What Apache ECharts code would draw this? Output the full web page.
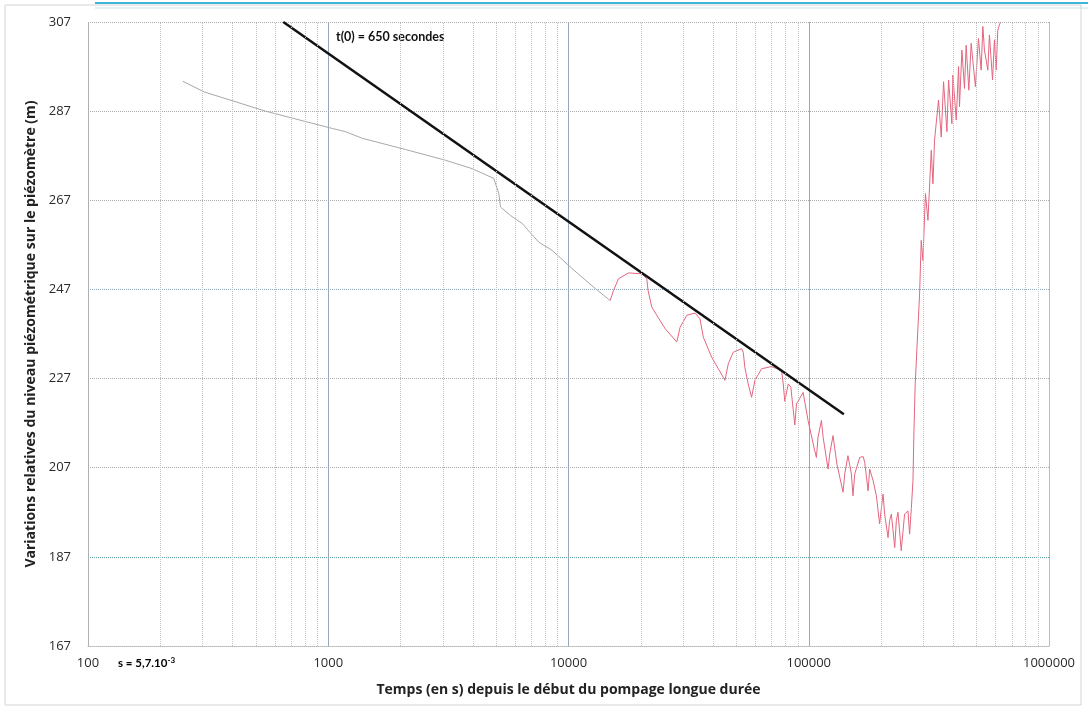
<!DOCTYPE html>
<html>
<head>
<meta charset="utf-8">
<script src="https://cdn.jsdelivr.net/npm/echarts@6/dist/echarts.min.js"></script>
<style>
html,body{margin:0;padding:0;background:#fff;}
#chart{width:1088px;height:715px;}
</style>
</head>
<body>
<div id="chart"></div>
<script>
// Early (grey) part of the drawdown record
const greyTime = [248, 305, 548, 1042, 1179, 1387, 2094, 3069, 3971, 4889, 5128, 5210, 5730, 6414, 7520, 8536, 10340, 12920, 14910];
const greyLevel = [293.7, 291.3, 287.0, 283.1, 282.4, 280.9, 278.4, 276.0, 274.1, 271.9, 268.5, 265.5, 263.6, 261.8, 257.6, 255.8, 251.7, 247.2, 244.5];

// Later (red) part of the record
const redTime = [14910, 15400, 16150, 17770, 20180, 21180, 21430, 22230, 25240, 28230, 29140, 31060, 33640, 35260, 36400, 39440, 44800, 46240, 48500, 52570, 53400, 54200, 55960, 57800, 59700, 63640, 69980, 77090, 78300, 79500, 82150, 84200, 87500, 88920, 94760, 99330, 105900, 107600, 109300, 112900, 114800, 120300, 122300, 126200, 131000, 138900, 141200, 145600, 148100, 150500, 152800, 155400, 163000, 168400, 171000, 176600, 179300, 185300, 191200, 197200, 203800, 207000, 213800, 217000, 220700, 228000, 231500, 235200, 242600, 250600, 258900, 262900, 267200, 271500, 274100, 277400, 289300, 293900, 298700, 301600, 306000, 313400, 323600, 328800, 333900, 346800, 356000, 364000, 375900, 382000, 394300, 398100, 411000, 420400, 424100, 434000, 444800, 452000, 463800, 474300, 494000, 508600, 521900, 530500, 538600, 556400, 565000, 582100, 592700, 602400, 612200, 621700, 628000];
const redLevel = [244.5, 246.8, 249.4, 250.7, 250.5, 249.4, 246.8, 243.0, 238.2, 235.2, 238.5, 241.2, 241.7, 240.4, 236.3, 231.8, 226.6, 230.3, 232.9, 233.7, 232.9, 229.5, 225.8, 222.8, 226.6, 229.2, 229.7, 228.8, 225.8, 221.9, 225.8, 225.1, 216.6, 221.3, 223.9, 217.6, 210.8, 209.3, 213.8, 217.6, 213.8, 206.7, 210.1, 214.2, 207.8, 201.5, 205.6, 209.7, 209.9, 205.6, 200.7, 205.6, 209.3, 209.5, 208.2, 201.8, 206.7, 204.1, 200.7, 194.4, 201.1, 196.6, 191.3, 195.1, 196.6, 189.1, 195.1, 197.0, 188.4, 196.6, 197.3, 192.1, 197.8, 204.1, 215.3, 225.8, 246.0, 258.0, 253.5, 259.5, 268.5, 262.5, 278.2, 270.7, 280.5, 289.5, 281.2, 293.6, 282.4, 294.0, 284.2, 295.1, 285.0, 297.0, 288.0, 300.7, 292.1, 301.8, 291.7, 302.2, 292.5, 303.3, 296.2, 306.0, 300.7, 296.2, 304.1, 294.0, 303.0, 296.2, 305.2, 306.3, 307.0];

// Jacob straight-line fit (t(0) = 650 s)
const fitTime = [650, 140000];
const fitLevel = [307, 219];

// Axis settings
const yMin = 167, yMax = 307, yStep = 20;
const xMin = 100, xMax = 1000000;

// minor vertical grid positions (2..9 of each decade)
const minorX = [];
for (let d = 100; d < xMax; d *= 10) {
  for (let m = 2; m <= 9; m++) minorX.push(d * m);
}

const zip = (a, b) => a.map((v, i) => [v, b[i]]);
const LBL = 'Open Sans';

const chart = echarts.init(document.getElementById('chart'));
chart.setOption({
  backgroundColor: '#ffffff',
  animation: false,
  grid: { left: 88, right: 39, top: 22, bottom: 69 },
  xAxis: {
    type: 'log', logBase: 10, min: xMin, max: xMax,
    name: 'Temps (en s) depuis le début du pompage longue durée',
    nameLocation: 'middle', nameGap: 37,
    nameTextStyle: { fontFamily: LBL, fontWeight: 'bold', fontSize: 14, color: '#222' },
    axisLine: { show: true, lineStyle: { color: '#b5b5b5', type: 'dotted' } },
    axisTick: { show: false },
    axisLabel: { fontFamily: LBL, fontSize: 13, color: '#2a2a2a', margin: 11, formatter: v => String(v) },
    splitLine: { show: true, lineStyle: { color: ['#b0b0b0', '#9aa6bc', '#9aa6bc', '#9aa6bc', '#bbbbbb'], width: 1, type: 'solid' } }
  },
  yAxis: {
    type: 'value', min: yMin, max: yMax, interval: yStep,
    name: 'Variations relatives du niveau piézométrique sur le piézomètre (m)',
    nameLocation: 'middle', nameGap: 43, nameRotate: 90,
    nameTextStyle: { fontFamily: LBL, fontWeight: 'bold', fontSize: 14, color: '#222' },
    axisLine: { show: true, lineStyle: { color: '#b0b0b0', type: 'dotted' } },
    axisTick: { show: false },
    axisLabel: { fontFamily: LBL, fontSize: 13, color: '#2a2a2a', margin: 17 },
    splitLine: { show: true, lineStyle: { color: ['#aaaaaa', '#5e9e9e', '#aaaaaa', '#aaaaaa', '#8aa6b8', '#aaaaaa', '#aaaaaa', '#aaaaaa'], width: 1, type: 'dotted' } }
  },
  series: [
    {
      type: 'line', name: 'minor', data: [], silent: true,
      markLine: {
        silent: true, symbol: 'none', label: { show: false },
        lineStyle: { color: '#c4c4c4', width: 1, type: 'dotted' },
        data: minorX.map(v => ({ xAxis: v }))
      }
    },
    {
      type: 'line', name: 'early', data: zip(greyTime, greyLevel),
      showSymbol: false, symbol: 'none',
      lineStyle: { color: '#a8a8a8', width: 1 }, z: 3
    },
    {
      type: 'line', name: 'late', data: zip(redTime, redLevel),
      showSymbol: false, symbol: 'none',
      lineStyle: { color: '#e3667f', width: 1 }, z: 3
    },
    {
      type: 'line', name: 'fit', data: zip(fitTime, fitLevel),
      showSymbol: false, symbol: 'none',
      lineStyle: { color: '#111111', width: 2.5 }, z: 4
    }
  ],
  graphic: [
    { type: 'line', shape: { x1: 95, y1: 3, x2: 1088, y2: 3 }, style: { stroke: '#3bb6d6', lineWidth: 2 } },
    { type: 'line', shape: { x1: 95, y1: 8, x2: 1088, y2: 8 }, style: { stroke: '#c4e2e2', lineWidth: 1 } },
    { type: 'rect', shape: { x: 5, y: 5, width: 1076, height: 700 }, style: { fill: 'none', stroke: '#d4d4d4', lineWidth: 1 }, silent: true },
    { type: 'text', x: 336, y: 30, style: { text: 't(0) = 650 secondes', font: 'bold 12.5px Lato', fill: '#111' } },
    { type: 'text', x: 118, y: 656, style: { text: '{a|s = 5,7.10}{b|-3}', rich: { a: { fontFamily: 'Lato', fontWeight: 'bold', fontSize: 11.5, color: '#222' }, b: { fontFamily: 'Lato', fontWeight: 'bold', fontSize: 8, color: '#222', verticalAlign: 'top', padding: [0, 0, 6, 0] } } } }
  ]
});
</script>
</body>
</html>
